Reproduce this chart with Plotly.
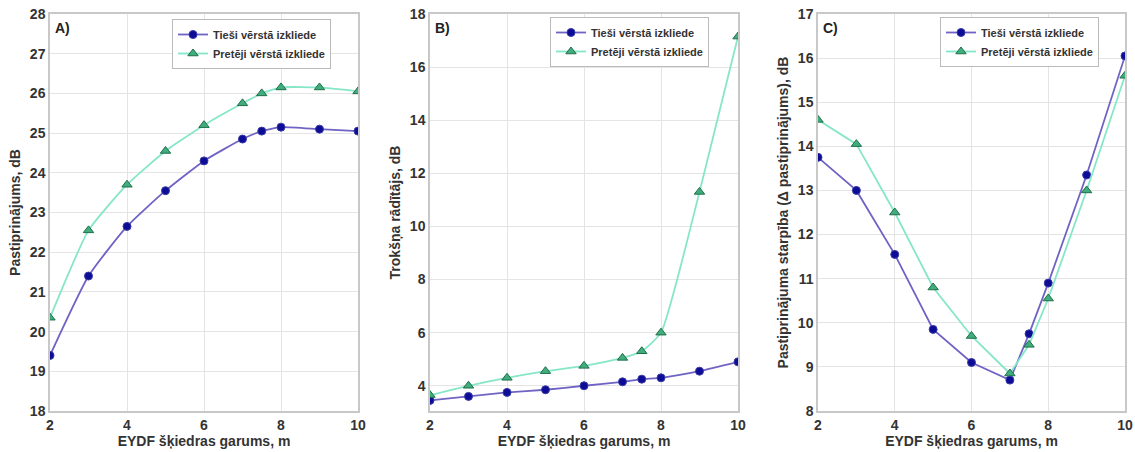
import plotly.graph_objects as go

x_len = [2, 3, 4, 5, 6, 7, 7.5, 8, 9, 10]

gain_fwd = [19.4, 21.4, 22.65, 23.55, 24.3, 24.85, 25.05, 25.15, 25.1, 25.05]
gain_bwd = [20.35, 22.55, 23.7, 24.55, 25.2, 25.75, 26.0, 26.15, 26.15, 26.05]

nf_fwd = [3.45, 3.6, 3.75, 3.85, 4.0, 4.15, 4.25, 4.3, 4.55, 4.9]
nf_bwd = [3.65, 4.0, 4.3, 4.55, 4.75, 5.05, 5.3, 6.0, 11.3, 17.15]

dg_fwd = [13.75, 13.0, 11.55, 9.85, 9.1, 8.7, 9.75, 10.9, 13.35, 16.05]
dg_bwd = [14.6, 14.05, 12.5, 10.8, 9.7, 8.85, 9.5, 10.55, 13.0, 15.6]

name_fwd = "Tieši vērstā izkliede"
name_bwd = "Pretēji vērstā izkliede"
x_title = "EYDF šķiedras garums, m"
y_titles = ["Pastiprinājums, dB", "Trokšņa rādītājs, dB",
            "Pastiprinājuma starpība (Δ pastiprinājums), dB"]
panel_labels = ["A)", "B)", "C)"]
y_ranges = [[18, 28], [3.05, 18], [8, 17]]
y_dticks = [1, 2, 1]
x_ticks = [2, 4, 6, 8, 10]

W, H = 1135, 452
FONT = "Liberation Sans, Arial, sans-serif"
C_BLUE_LINE = "#6f63c4"
C_BLUE_MK = "#0c0c94"
C_GREEN_LINE = "#86e6c8"
C_GREEN_MK = "#3fae7c"
TXT = "#333333"

x_domains = [[50 / W, 358 / W], [430 / W, 738 / W], [818 / W, 1125 / W]]
y_domain = [1 - 411 / H, 1 - 14 / H]
legend_pos = [(172, 19), (550, 17), (940, 17)]
shapes_list = [["spline", "spline"], ["spline", "spline"], ["linear", "linear"]]

fig = go.Figure()
series = [(gain_fwd, gain_bwd), (nf_fwd, nf_bwd), (dg_fwd, dg_bwd)]
for i, (yf, yb) in enumerate(series):
    sfx = "" if i == 0 else str(i + 1)
    lg = "legend" if i == 0 else "legend" + str(i + 1)
    fig.add_trace(go.Scatter(
        x=x_len, y=yf, name=name_fwd, mode="lines+markers",
        line=dict(color=C_BLUE_LINE, width=1.8, shape=shapes_list[i][0], smoothing=0.5),
        marker=dict(symbol="circle", size=8, color=C_BLUE_MK,
                    line=dict(color="#3a3aa8", width=1)),
        xaxis="x" + sfx, yaxis="y" + sfx, legend=lg))
    fig.add_trace(go.Scatter(
        x=x_len, y=yb, name=name_bwd, mode="lines+markers",
        line=dict(color=C_GREEN_LINE, width=1.8, shape=shapes_list[i][1], smoothing=0.5),
        marker=dict(symbol="triangle-up", size=9, color=C_GREEN_MK,
                    line=dict(color="#1f6e4a", width=1)),
        xaxis="x" + sfx, yaxis="y" + sfx, legend=lg))

layout = dict(
    width=W, height=H,
    margin=dict(l=0, r=0, t=0, b=0),
    paper_bgcolor="white", plot_bgcolor="white",
    font=dict(family=FONT, size=12, color=TXT),
    template="none",
    annotations=[],
)
axis_common = dict(showgrid=True, gridcolor="#e4e4e4", gridwidth=1,
                   showline=True, linecolor="#c8c8c8", linewidth=1.5, mirror=True,
                   zeroline=False, ticks="", automargin=False,
                   tickfont=dict(family=FONT, size=14, color=TXT, weight="bold"))
for i in range(3):
    sfx = "" if i == 0 else str(i + 1)
    layout["xaxis" + sfx] = dict(
        axis_common, domain=x_domains[i], range=[2, 10], tickvals=x_ticks,
        anchor="y" + sfx, ticklabelstandoff=0,
        title=dict(text=x_title, standoff=1,
                   font=dict(family=FONT, size=14, color=TXT, weight="bold")))
    layout["yaxis" + sfx] = dict(
        axis_common, domain=y_domain, range=y_ranges[i], dtick=y_dticks[i],
        anchor="x" + sfx,
        title=dict(text=y_titles[i], standoff=6,
                   font=dict(family=FONT, size=14, color=TXT, weight="bold")))
    lx, ly = legend_pos[i]
    layout["legend" if i == 0 else "legend" + str(i + 1)] = dict(
        x=lx / W, y=1 - ly / H, xanchor="left", yanchor="top",
        bgcolor="white", bordercolor="#bbbbbb", borderwidth=1,
        font=dict(family=FONT, size=11, color=TXT, weight="bold"),
        tracegroupgap=0, itemwidth=30)
    layout["annotations"].append(dict(
        text=panel_labels[i], xref="x" + sfx + " domain", yref="y" + sfx + " domain",
        x=0.01, y=0.99, xanchor="left", yanchor="top", showarrow=False,
        font=dict(family=FONT, size=14, color="#222222", weight="bold")))

fig.update_layout(**layout)
fig.write_html("out.html", config={"displayModeBar": False},
               post_script="document.body.style.margin='0px';")
